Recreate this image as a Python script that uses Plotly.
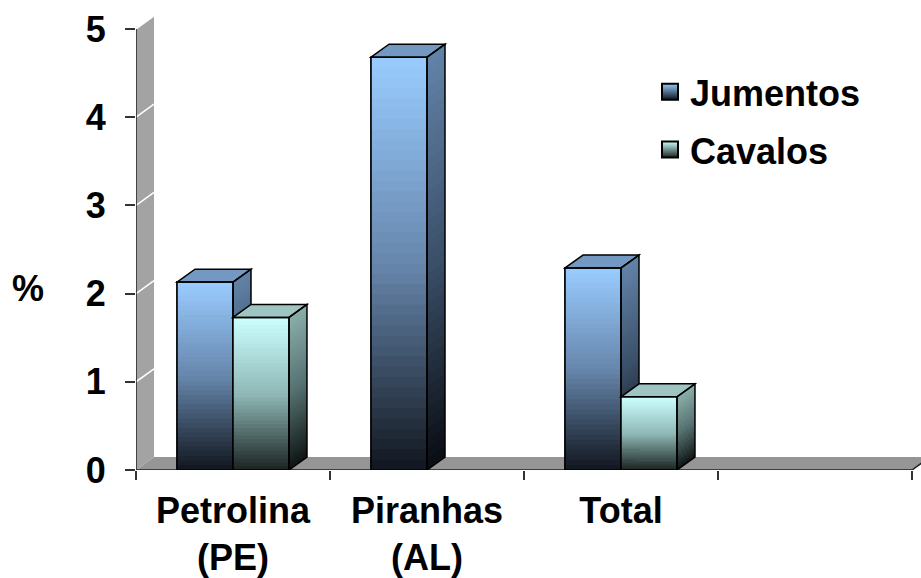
import plotly.graph_objects as go

# ---------------- data ----------------
categories = ["Petrolina<br>(PE)", "Piranhas<br>(AL)", "Total", ""]
jumentos = [2.13, 4.68, 2.29, None]
cavalos = [1.73, None, 0.83, None]
series_names = ["Jumentos", "Cavalos"]
y_tickvals = [0, 1, 2, 3, 4, 5]
y_max_axis = 5

# ---------------- geometry / style ----------------
W, H = 921, 578
ML, MR, MT, MB = 136, 0, 10, 106
PX_X = 194.0
PX_Y = 88.6
plot_w = W - ML - MR
plot_h = H - MT - MB
x_range = [-0.5, -0.5 + plot_w / PX_X]
y_range = [0, plot_h / PX_Y]
DX = 18 / PX_X
DY = 13 / PX_Y
BARGAP = 0.423
BW = (1 - BARGAP) / 2
N_SLICES = 40
FONT = "Liberation Sans, Arial, sans-serif"
FS = 36

front_stops = {
    "Jumentos": [(0, "#99ccff"), (0.5, "#6686ab"), (1, "#10151d")],
    "Cavalos": [(0, "#ccffff"), (0.5, "#8fb8b6"), (1, "#1a2221")],
}
side_stops = {
    "Jumentos": [(0, "#6283a8"), (0.5, "#3b5069"), (1, "#090c11")],
    "Cavalos": [(0, "#8aaeaa"), (0.5, "#557170"), (1, "#0e1413")],
}
top_color = {"Jumentos": "#7399c2", "Cavalos": "#9ec5c1"}
legend_color = {"Jumentos": "#6f93bb", "Cavalos": "#9cc9c7"}


def hex2rgb(h):
    h = h.lstrip("#")
    return tuple(int(h[i:i + 2], 16) for i in (0, 2, 4))


def grad(stops, t):
    for (t0, c0), (t1, c1) in zip(stops[:-1], stops[1:]):
        if t <= t1:
            f = 0 if t1 == t0 else (t - t0) / (t1 - t0)
            a, b = hex2rgb(c0), hex2rgb(c1)
            return "rgb(%d,%d,%d)" % tuple(round(a[i] + (b[i] - a[i]) * f) for i in range(3))
    return stops[-1][1]


def path(pts):
    return "M" + "L".join("%.5f,%.5f" % p for p in pts) + "Z"


shapes = []
x0w = x_range[0]
x_end = 3.5

# back wall
shapes.append(dict(type="path", layer="below", xref="x", yref="y",
                   path=path([(x0w, 0), (x0w, y_max_axis), (x0w + DX, y_max_axis + DY), (x0w + DX, DY)]),
                   fillcolor="#a3a3a3", line=dict(width=0)))
# floor
shapes.append(dict(type="path", layer="below", xref="x", yref="y",
                   path=path([(x0w, 0), (x_end, 0), (x_end + DX, DY), (x0w + DX, DY)]),
                   fillcolor="#969696", line=dict(width=0)))
# wall grid lines
for v in y_tickvals[1:]:
    shapes.append(dict(type="line", layer="below", xref="x", yref="y",
                       x0=x0w, y0=v, x1=x0w + DX, y1=v + DY,
                       line=dict(color="white", width=1.5)))
# front axis lines
shapes.append(dict(type="line", layer="above", xref="x", yref="y",
                   x0=x0w, y0=0, x1=x0w, y1=y_max_axis, line=dict(color="#222", width=1.5)))
shapes.append(dict(type="line", layer="above", xref="x", yref="y",
                   x0=x0w, y0=0, x1=x_end, y1=0, line=dict(color="#222", width=1.5)))
shapes.append(dict(type="line", layer="above", xref="x", yref="y",
                   x0=x_end, y0=0, x1=x_end + DX, y1=DY, line=dict(color="#222", width=1.5)))


def add_bar(xl, v, name):
    xr = xl + BW
    eps = v / N_SLICES * 0.35
    for k in range(N_SLICES):
        h0 = v * k / N_SLICES
        h1 = min(v, v * (k + 1) / N_SLICES + eps)
        t = 1 - (h0 + h1) / 2 / v
        shapes.append(dict(type="rect", layer="above", xref="x", yref="y",
                           x0=xl, x1=xr, y0=h0, y1=h1,
                           fillcolor=grad(front_stops[name], t), line=dict(width=0)))
    for k in range(N_SLICES):
        h0 = v * k / N_SLICES
        h1 = min(v, v * (k + 1) / N_SLICES + eps)
        t = 1 - (h0 + h1) / 2 / v
        shapes.append(dict(type="path", layer="above", xref="x", yref="y",
                           path=path([(xr, h0), (xr + DX, h0 + DY), (xr + DX, h1 + DY), (xr, h1)]),
                           fillcolor=grad(side_stops[name], t), line=dict(width=0)))
    shapes.append(dict(type="path", layer="above", xref="x", yref="y",
                       path=path([(xl, v), (xl + DX, v + DY), (xr + DX, v + DY), (xr, v)]),
                       fillcolor=top_color[name], line=dict(color="black", width=1.5)))
    shapes.append(dict(type="path", layer="above", xref="x", yref="y",
                       path=path([(xr, 0), (xr + DX, DY), (xr + DX, v + DY), (xr, v)]),
                       fillcolor="rgba(0,0,0,0)", line=dict(color="black", width=1.5)))
    shapes.append(dict(type="rect", layer="above", xref="x", yref="y",
                       x0=xl, x1=xr, y0=0, y1=v,
                       fillcolor="rgba(0,0,0,0)", line=dict(color="black", width=1.5)))


xs = list(range(len(categories)))
for i in xs:
    for s, (name, vals) in enumerate(zip(series_names, [jumentos, cavalos])):
        v = vals[i]
        if v:
            add_bar(i - BW + s * BW, v, name)

fig = go.Figure()
for name, vals, grp in zip(series_names, [jumentos, cavalos], ["j", "c"]):
    fig.add_trace(go.Bar(
        x=xs, y=vals, name=name, legendgroup=grp, showlegend=False,
        marker=dict(color=legend_color[name], line=dict(color="black", width=1.5)),
        hoverinfo="skip",
    ))
# legend entries (square gradient swatches)
for name, grp in zip(series_names, ["j", "c"]):
    fig.add_trace(go.Scatter(
        x=[None], y=[None], mode="markers", name=name, legendgroup=grp,
        marker=dict(symbol="square", size=18, color=front_stops[name][0][1],
                    gradient=dict(type="vertical", color=front_stops[name][-1][1]),
                    line=dict(color="black", width=2)),
        hoverinfo="skip",
    ))

fig.update_layout(
    width=W, height=H,
    margin=dict(l=ML, r=MR, t=MT, b=MB, pad=0),
    paper_bgcolor="white", plot_bgcolor="white",
    barmode="group", bargap=BARGAP, bargroupgap=0,
    shapes=shapes,
    font=dict(family=FONT, size=FS, color="black", weight=700),
    showlegend=True,
    legend=dict(x=(650 - ML) / plot_w, y=(472 - 62) / plot_h, xanchor="left", yanchor="top",
                bgcolor="rgba(0,0,0,0)", font=dict(size=FS, family=FONT, weight=700),
                tracegroupgap=8, itemsizing="trace", itemclick=False, itemdoubleclick=False),
    xaxis=dict(type="linear", range=x_range, tickvals=xs[:3], ticktext=categories[:3],
               ticks="", showline=False, showgrid=False, zeroline=False,
               ticklabelstandoff=16,
               minor=dict(tickvals=[-0.5, 0.5, 1.5, 2.5, 3.5], ticks="outside",
                          ticklen=9, tickcolor="#333", tickwidth=1.5, showgrid=False)),
    yaxis=dict(range=y_range, tickvals=y_tickvals, ticks="outside", ticklen=10,
               tickcolor="#333", tickwidth=1.5, showline=False, showgrid=False,
               zeroline=False, ticklabelstandoff=12),
    annotations=[dict(text="%", xref="paper", yref="y", x=(28 - ML) / plot_w, y=2.06,
                      showarrow=False, xanchor="center", yanchor="middle",
                      font=dict(size=FS, family=FONT, weight=700))],
)

fig.write_html("out.html")
